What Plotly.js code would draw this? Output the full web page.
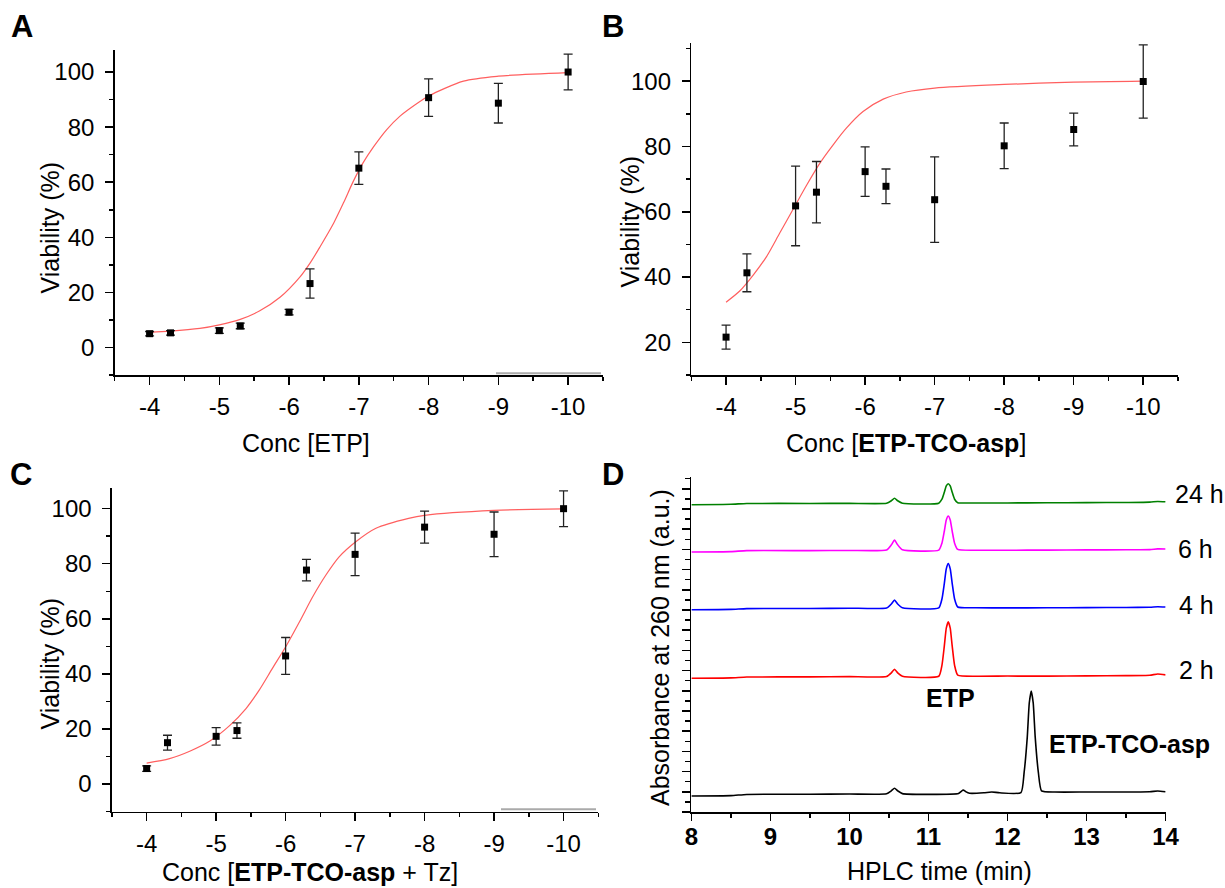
<!DOCTYPE html>
<html>
<head>
<meta charset="utf-8">
<script src="https://cdn.plot.ly/plotly-3.0.1.min.js"></script>
<style>html,body{margin:0;padding:0;background:#fff;}#chart{width:1225px;height:888px;}</style>
</head>
<body>
<div id="chart"></div>
<script>
// ---------- DATA ----------
const concX = [-4, -4.3, -5, -5.3, -6, -6.3, -7, -8, -9, -10];
const concTickVals = [-4, -5, -6, -7, -8, -9, -10];
const concTickText = ['-4', '-5', '-6', '-7', '-8', '-9', '-10'];

// Panel A: ETP
const viabA = [5.0, 5.3, 6.1, 7.8, 12.8, 23.2, 65.1, 90.7, 88.7, 100.0];
const errA  = [0.8, 0.8, 1.0, 1.0, 1.0, 5.3, 5.9, 6.8, 7.2, 6.5];
const fitAx = [-4, -4.29, -4.72, -5.0, -5.3, -5.58, -5.87, -6.16, -6.3, -6.44, -6.64, -6.78, -6.92, -7.06, -7.21, -7.4, -7.59, -7.88, -8.0, -8.5, -9.0, -10];
const fitAy = [5.5, 5.9, 6.9, 8.2, 10.2, 13.3, 18.2, 25.7, 30.6, 36.4, 45.2, 52.5, 60.3, 67.0, 72.8, 79.1, 84.0, 89.4, 91.3, 96.7, 98.5, 99.8];

// Panel B: ETP-TCO-asp
const viabB = [21.6, 41.3, 61.8, 66.0, 72.3, 67.8, 63.7, 80.2, 85.2, 99.9];
const errB  = [3.7, 5.8, 12.2, 9.4, 7.6, 5.3, 13.1, 7.0, 5.0, 11.2];
const fitBx = [-4.0, -4.2, -4.39, -4.58, -4.77, -4.96, -5.16, -5.35, -5.54, -5.73, -5.97, -6.26, -6.59, -7.0, -8.0, -9.0, -10];
const fitBy = [32.3, 35.8, 40.6, 46.2, 53.4, 60.6, 68.2, 74.9, 80.5, 85.6, 90.7, 94.5, 96.7, 97.9, 99.0, 99.7, 100.0];

// Panel C: ETP-TCO-asp + Tz
const viabC = [5.6, 15.0, 17.3, 19.4, 46.5, 77.7, 83.4, 93.3, 90.7, 100.0];
const errC  = [1.0, 2.7, 3.2, 2.8, 6.7, 3.9, 7.7, 5.8, 8.1, 6.5];
const fitCx = [-4.0, -4.33, -4.62, -4.91, -5.19, -5.43, -5.62, -5.81, -6.01, -6.2, -6.39, -6.58, -6.77, -7.01, -7.3, -7.77, -8.0, -9.0, -10];
const fitCy = [7.6, 9.2, 11.9, 15.6, 21.1, 27.4, 34.1, 42.0, 50.2, 58.9, 68.0, 75.9, 82.5, 88.0, 92.9, 96.5, 97.6, 99.4, 99.9];

// Panel D: HPLC traces (offset absorbance, a.u.)
const hplcT = [8.0, 8.5, 8.7, 9.5, 10.0, 10.47, 10.53, 10.57, 10.61, 10.67, 11.13, 11.17, 11.2, 11.225, 11.25, 11.275, 11.3, 11.33, 11.37, 11.6, 12.0, 12.5, 13.0, 13.5, 13.8, 13.9, 14.0];
const abs2h  = [13.24, 13.28, 13.36, 13.38, 13.40, 13.42, 13.78, 14.13, 13.78, 13.44, 13.44, 14.52, 16.42, 18.20, 18.84, 18.20, 16.42, 14.52, 13.55, 13.44, 13.46, 13.45, 13.48, 13.50, 13.54, 13.66, 13.58];
const abs4h  = [20.03, 20.06, 20.14, 20.15, 20.18, 20.20, 20.60, 20.99, 20.60, 20.22, 20.22, 21.09, 22.62, 24.07, 24.59, 24.07, 22.62, 21.09, 20.30, 20.22, 20.21, 20.22, 20.24, 20.25, 20.28, 20.33, 20.30];
const abs6h  = [25.74, 25.78, 25.88, 25.88, 25.90, 25.95, 26.45, 26.93, 26.45, 25.96, 25.93, 26.62, 27.80, 28.92, 29.31, 28.92, 27.80, 26.62, 26.00, 25.92, 25.92, 25.93, 25.95, 25.96, 25.98, 26.05, 26.04];
const abs24h = [30.43, 30.47, 30.55, 30.55, 30.56, 30.57, 30.82, 31.06, 30.82, 30.58, 30.58, 30.97, 31.65, 32.29, 32.50, 32.29, 31.65, 30.97, 30.63, 30.60, 30.60, 30.62, 30.63, 30.65, 30.68, 30.75, 30.72];
const hplcT0 = [8.0, 8.5, 8.7, 9.5, 10.0, 10.47, 10.53, 10.57, 10.61, 10.67, 11.38, 11.41, 11.44, 11.47, 11.52, 11.7, 11.8, 11.9, 12.17, 12.21, 12.25, 12.275, 12.3, 12.325, 12.35, 12.39, 12.43, 12.6, 13.0, 13.5, 13.8, 13.9, 14.0];
const abs0h  = [1.58, 1.62, 1.74, 1.76, 1.78, 1.80, 2.10, 2.35, 2.10, 1.82, 1.84, 2.02, 2.18, 2.02, 1.86, 1.90, 1.98, 1.90, 1.92, 3.92, 7.44, 10.79, 11.98, 10.79, 7.44, 3.92, 2.10, 1.98, 1.98, 1.98, 2.00, 2.08, 2.00];
const hplcTickVals = [8, 9, 10, 11, 12, 13, 14];
const traceLabels = ['2 h', '4 h', '6 h', '24 h'];

// ---------- LAYOUT HELPERS ----------
const W = 1225, H = 888;
const fx = p => p / W;
const fy = p => 1 - p / H;
const FONT = 'Liberation Sans, Arial, sans-serif';

function concXAxis(x0, x1, anchor) {
  return {
    domain: [fx(x0), fx(x1)], anchor: anchor,
    range: [-3.5, -10.5], tickmode: 'array', tickvals: concTickVals, ticktext: concTickText,
    ticks: 'outside', ticklen: 8, tickwidth: 1.5, tickcolor: '#000',
    minor: {tickmode: 'array', tickvals: [-3.5, -4.5, -5.5, -6.5, -7.5, -8.5, -9.5, -10.5], ticks: 'outside', ticklen: 4, tickwidth: 1.5, tickcolor: '#000'},
    showline: true, linecolor: '#000', linewidth: 1.5, showgrid: false, zeroline: false,
    tickfont: {family: FONT, size: 24, color: '#000'}, ticklabelstandoff: 2
  };
}
function viabYAxis(y0, y1, range, majors, minors, anchor) {
  return {
    domain: [fy(y1), fy(y0)], anchor: anchor, range: range,
    tickmode: 'array', tickvals: majors,
    ticks: 'outside', ticklen: 8, tickwidth: 1.5, tickcolor: '#000',
    minor: {tickmode: 'array', tickvals: minors, ticks: 'outside', ticklen: 4, tickwidth: 1.5, tickcolor: '#000'},
    showline: true, linecolor: '#000', linewidth: 1.5, showgrid: false, zeroline: false,
    tickfont: {family: FONT, size: 24, color: '#000'}, ticklabelstandoff: 6
  };
}

function markers(y, err, xa, ya) {
  return {x: concX, y: y, xaxis: xa, yaxis: ya, type: 'scatter', mode: 'markers',
    marker: {symbol: 'square', size: 7, color: '#000'},
    error_y: {type: 'data', array: err, visible: true, color: '#222', thickness: 1.3, width: 4.5},
    cliponaxis: false, hoverinfo: 'x+y'};
}
function fit(x, y, xa, ya) {
  return {x: x, y: y, xaxis: xa, yaxis: ya, type: 'scatter', mode: 'lines',
    line: {color: 'rgb(255,95,95)', width: 1.2, shape: 'spline', smoothing: 0.8}, hoverinfo: 'skip'};
}
function hplc(x, y, color) {
  return {x: x, y: y, xaxis: 'x4', yaxis: 'y4', type: 'scatter', mode: 'lines',
    line: {color: color, width: 1.6, shape: 'spline', smoothing: 0.5}};
}

const data = [
  fit(fitAx, fitAy, 'x', 'y'), markers(viabA, errA, 'x', 'y'),
  fit(fitBx, fitBy, 'x2', 'y2'), markers(viabB, errB, 'x2', 'y2'),
  fit(fitCx, fitCy, 'x3', 'y3'), markers(viabC, errC, 'x3', 'y3'),
  hplc(hplcT0, abs0h, '#000000'),
  hplc(hplcT, abs2h, '#ff0000'),
  hplc(hplcT, abs4h, '#0000ff'),
  hplc(hplcT, abs6h, '#ff00ff'),
  hplc(hplcT, abs24h, '#008000')
];

function ann(text, x, y, size, opts) {
  return Object.assign({text: text, x: fx(x), y: fy(y), xref: 'paper', yref: 'paper', showarrow: false,
    xanchor: 'center', yanchor: 'middle', borderpad: 0, font: {family: FONT, size: size, color: '#000'}}, opts || {});
}

const dYmajor = [], dYminor = [];
for (let v = 0; v <= 33; v++) { (v % 2 === 0 ? dYmajor : dYminor).push(v); }

const layout = {
  width: W, height: H, margin: {l: 0, r: 0, t: 0, b: 0},
  paper_bgcolor: '#fff', plot_bgcolor: '#fff', showlegend: false,
  xaxis: concXAxis(114.7, 603, 'y'),
  yaxis: viabYAxis(50, 375, [-10, 108], [0, 20, 40, 60, 80, 100], [-10, 10, 30, 50, 70, 90], 'x'),
  xaxis2: concXAxis(691.3, 1178, 'y2'),
  yaxis2: viabYAxis(43, 375, [10, 111.7], [20, 40, 60, 80, 100], [10, 30, 50, 70, 90, 110], 'x2'),
  xaxis3: concXAxis(111.9, 598.3, 'y3'),
  yaxis3: viabYAxis(488.3, 811.5, [-10, 107.4], [0, 20, 40, 60, 80, 100], [-10, 10, 30, 50, 70, 90], 'x3'),
  xaxis4: {
    domain: [fx(691.4), fx(1165.6)], anchor: 'y4', range: [8, 14],
    tickmode: 'array', tickvals: hplcTickVals,
    ticks: 'outside', ticklen: 7, tickwidth: 1.5, tickcolor: '#000',
    minor: {tickmode: 'array', tickvals: [8.5, 9.5, 10.5, 11.5, 12.5, 13.5], ticks: 'outside', ticklen: 4, tickwidth: 1.5, tickcolor: '#000'},
    showline: true, linecolor: '#000', linewidth: 1.5, showgrid: false, zeroline: false,
    tickfont: {family: FONT, size: 24, color: '#000', weight: 'bold'}, ticklabelstandoff: -4
  },
  yaxis4: {
    domain: [fy(812), fy(476.7)], anchor: 'x4', range: [0, 33.2],
    tickmode: 'array', tickvals: dYmajor, showticklabels: false,
    ticks: 'outside', ticklen: 8, tickwidth: 1.5, tickcolor: '#000',
    minor: {tickmode: 'array', tickvals: dYminor, ticks: 'outside', ticklen: 5, tickwidth: 1.5, tickcolor: '#000'},
    showline: true, linecolor: '#000', linewidth: 1.5, showgrid: false, zeroline: false
  },
  shapes: [
    {type: 'line', xref: 'paper', yref: 'paper', x0: fx(496), x1: fx(601), y0: fy(373.3), y1: fy(373.3), line: {color: '#aaa', width: 2}},
    {type: 'line', xref: 'paper', yref: 'paper', x0: fx(501), x1: fx(596), y0: fy(809.3), y1: fy(809.3), line: {color: '#aaa', width: 2}}
  ],
  annotations: [
    ann('<b>A</b>', 22, 27, 31),
    ann('<b>B</b>', 613, 27, 31),
    ann('<b>C</b>', 21, 474, 31),
    ann('<b>D</b>', 613, 474, 31),
    ann('Viability (%)', 49.5, 228, 25, {textangle: -90}),
    ann('Viability (%)', 630, 221.5, 25, {textangle: -90}),
    ann('Viability (%)', 49.5, 664, 25, {textangle: -90}),
    ann('Absorbance at 260 nm (a.u.)', 659.5, 647.5, 25, {textangle: -90}),
    ann('Conc [ETP]', 305.5, 443, 25),
    ann('Conc [<b>ETP-TCO-asp</b>]', 905.7, 443, 25),
    ann('Conc [<b>ETP-TCO-asp</b> + Tz]', 310.4, 872, 25),
    ann('HPLC time (min)', 939.3, 871, 25),
    ann(traceLabels[3], 1173.6, 494, 25, {xanchor: 'left'}),
    ann(traceLabels[2], 1176.7, 549, 25, {xanchor: 'left'}),
    ann(traceLabels[1], 1177.5, 605, 25, {xanchor: 'left'}),
    ann(traceLabels[0], 1178, 670, 25, {xanchor: 'left'}),
    ann('<b>ETP</b>', 950.5, 698, 25),
    ann('<b>ETP-TCO-asp</b>', 1129, 744, 25)
  ]
};

Plotly.newPlot('chart', data, layout, {displayModeBar: false, staticPlot: true});
</script>
</body>
</html>
